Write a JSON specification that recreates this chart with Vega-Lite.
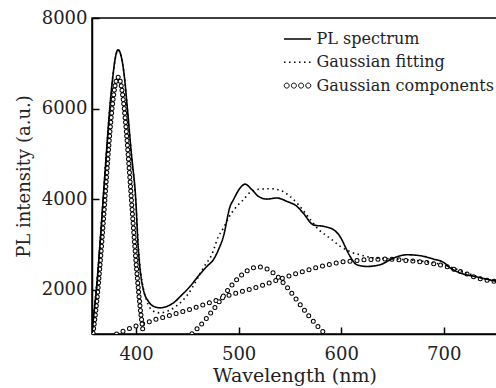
{
  "$schema": "https://vega.github.io/schema/vega-lite/v6.json",
  "width": 405,
  "height": 316,
  "autosize": {"type": "none"},
  "padding": {"left": 92, "top": 18, "right": 0, "bottom": 54},
  "background": "white",
  "config": {
    "view": {"stroke": "black", "strokeWidth": 1.5},
    "font": "DejaVu Serif",
    "axis": {
      "grid": false,
      "domainColor": "black",
      "domainWidth": 1.5,
      "tickColor": "black",
      "tickWidth": 1.5,
      "tickSize": -7,
      "labelFont": "DejaVu Serif",
      "labelFontSize": 18,
      "labelColor": "#222",
      "labelFontWeight": "normal",
      "titleFont": "DejaVu Serif",
      "titleFontWeight": "normal",
      "titleColor": "#222"
    }
  },
  "data": {
    "values": [
      {"series": "PL spectrum", "part": "PL", "wavelength": 357, "intensity": 1040},
      {"series": "PL spectrum", "part": "PL", "wavelength": 359, "intensity": 1500},
      {"series": "PL spectrum", "part": "PL", "wavelength": 361.3, "intensity": 2000},
      {"series": "PL spectrum", "part": "PL", "wavelength": 364.6, "intensity": 2950},
      {"series": "PL spectrum", "part": "PL", "wavelength": 367.8, "intensity": 3980},
      {"series": "PL spectrum", "part": "PL", "wavelength": 371, "intensity": 5000},
      {"series": "PL spectrum", "part": "PL", "wavelength": 374.3, "intensity": 6000},
      {"series": "PL spectrum", "part": "PL", "wavelength": 377.6, "intensity": 6760},
      {"series": "PL spectrum", "part": "PL", "wavelength": 379.8, "intensity": 7130},
      {"series": "PL spectrum", "part": "PL", "wavelength": 382.4, "intensity": 7300},
      {"series": "PL spectrum", "part": "PL", "wavelength": 385.7, "intensity": 7130},
      {"series": "PL spectrum", "part": "PL", "wavelength": 388.3, "intensity": 6760},
      {"series": "PL spectrum", "part": "PL", "wavelength": 391.5, "intensity": 6000},
      {"series": "PL spectrum", "part": "PL", "wavelength": 395.4, "intensity": 5000},
      {"series": "PL spectrum", "part": "PL", "wavelength": 399.7, "intensity": 3980},
      {"series": "PL spectrum", "part": "PL", "wavelength": 402, "intensity": 2950},
      {"series": "PL spectrum", "part": "PL", "wavelength": 403.9, "intensity": 2450},
      {"series": "PL spectrum", "part": "PL", "wavelength": 407.1, "intensity": 2000},
      {"series": "PL spectrum", "part": "PL", "wavelength": 412, "intensity": 1743},
      {"series": "PL spectrum", "part": "PL", "wavelength": 416.9, "intensity": 1633},
      {"series": "PL spectrum", "part": "PL", "wavelength": 423.4, "intensity": 1598},
      {"series": "PL spectrum", "part": "PL", "wavelength": 430, "intensity": 1630},
      {"series": "PL spectrum", "part": "PL", "wavelength": 436.4, "intensity": 1707},
      {"series": "PL spectrum", "part": "PL", "wavelength": 444, "intensity": 1870},
      {"series": "PL spectrum", "part": "PL", "wavelength": 452.7, "intensity": 2073},
      {"series": "PL spectrum", "part": "PL", "wavelength": 460, "intensity": 2280},
      {"series": "PL spectrum", "part": "PL", "wavelength": 469, "intensity": 2512},
      {"series": "PL spectrum", "part": "PL", "wavelength": 475.4, "intensity": 2662},
      {"series": "PL spectrum", "part": "PL", "wavelength": 480.3, "intensity": 2880},
      {"series": "PL spectrum", "part": "PL", "wavelength": 485.2, "intensity": 3177},
      {"series": "PL spectrum", "part": "PL", "wavelength": 491.7, "intensity": 3840},
      {"series": "PL spectrum", "part": "PL", "wavelength": 495, "intensity": 3990},
      {"series": "PL spectrum", "part": "PL", "wavelength": 501.5, "intensity": 4245},
      {"series": "PL spectrum", "part": "PL", "wavelength": 506.3, "intensity": 4330},
      {"series": "PL spectrum", "part": "PL", "wavelength": 512.9, "intensity": 4210},
      {"series": "PL spectrum", "part": "PL", "wavelength": 519.3, "intensity": 4060},
      {"series": "PL spectrum", "part": "PL", "wavelength": 527.5, "intensity": 4000},
      {"series": "PL spectrum", "part": "PL", "wavelength": 537.3, "intensity": 4025},
      {"series": "PL spectrum", "part": "PL", "wavelength": 547, "intensity": 3950},
      {"series": "PL spectrum", "part": "PL", "wavelength": 556.8, "intensity": 3840},
      {"series": "PL spectrum", "part": "PL", "wavelength": 563, "intensity": 3690},
      {"series": "PL spectrum", "part": "PL", "wavelength": 573, "intensity": 3430},
      {"series": "PL spectrum", "part": "PL", "wavelength": 582.7, "intensity": 3398},
      {"series": "PL spectrum", "part": "PL", "wavelength": 592.5, "intensity": 3325},
      {"series": "PL spectrum", "part": "PL", "wavelength": 600.7, "intensity": 3104},
      {"series": "PL spectrum", "part": "PL", "wavelength": 604.5, "intensity": 2920},
      {"series": "PL spectrum", "part": "PL", "wavelength": 608.8, "intensity": 2732},
      {"series": "PL spectrum", "part": "PL", "wavelength": 615.3, "intensity": 2550},
      {"series": "PL spectrum", "part": "PL", "wavelength": 625, "intensity": 2512},
      {"series": "PL spectrum", "part": "PL", "wavelength": 638, "intensity": 2550},
      {"series": "PL spectrum", "part": "PL", "wavelength": 651, "intensity": 2697},
      {"series": "PL spectrum", "part": "PL", "wavelength": 664, "intensity": 2770},
      {"series": "PL spectrum", "part": "PL", "wavelength": 677, "intensity": 2750},
      {"series": "PL spectrum", "part": "PL", "wavelength": 690, "intensity": 2675},
      {"series": "PL spectrum", "part": "PL", "wavelength": 700, "intensity": 2600},
      {"series": "PL spectrum", "part": "PL", "wavelength": 706.3, "intensity": 2480},
      {"series": "PL spectrum", "part": "PL", "wavelength": 716, "intensity": 2370},
      {"series": "PL spectrum", "part": "PL", "wavelength": 732.4, "intensity": 2280},
      {"series": "PL spectrum", "part": "PL", "wavelength": 752, "intensity": 2180},

      {"series": "Gaussian fitting", "part": "FIT", "wavelength": 357, "intensity": 1040},
      {"series": "Gaussian fitting", "part": "FIT", "wavelength": 361.3, "intensity": 2000},
      {"series": "Gaussian fitting", "part": "FIT", "wavelength": 367.8, "intensity": 3980},
      {"series": "Gaussian fitting", "part": "FIT", "wavelength": 374.3, "intensity": 6000},
      {"series": "Gaussian fitting", "part": "FIT", "wavelength": 377.6, "intensity": 6760},
      {"series": "Gaussian fitting", "part": "FIT", "wavelength": 382.4, "intensity": 7290},
      {"series": "Gaussian fitting", "part": "FIT", "wavelength": 388.3, "intensity": 6760},
      {"series": "Gaussian fitting", "part": "FIT", "wavelength": 391.5, "intensity": 5990},
      {"series": "Gaussian fitting", "part": "FIT", "wavelength": 395.4, "intensity": 4990},
      {"series": "Gaussian fitting", "part": "FIT", "wavelength": 399.7, "intensity": 3950},
      {"series": "Gaussian fitting", "part": "FIT", "wavelength": 403, "intensity": 2700},
      {"series": "Gaussian fitting", "part": "FIT", "wavelength": 406, "intensity": 2150},
      {"series": "Gaussian fitting", "part": "FIT", "wavelength": 410, "intensity": 1780},
      {"series": "Gaussian fitting", "part": "FIT", "wavelength": 416.9, "intensity": 1523},
      {"series": "Gaussian fitting", "part": "FIT", "wavelength": 423.4, "intensity": 1487},
      {"series": "Gaussian fitting", "part": "FIT", "wavelength": 430, "intensity": 1520},
      {"series": "Gaussian fitting", "part": "FIT", "wavelength": 440, "intensity": 1650},
      {"series": "Gaussian fitting", "part": "FIT", "wavelength": 450, "intensity": 1880},
      {"series": "Gaussian fitting", "part": "FIT", "wavelength": 460, "intensity": 2250},
      {"series": "Gaussian fitting", "part": "FIT", "wavelength": 466, "intensity": 2500},
      {"series": "Gaussian fitting", "part": "FIT", "wavelength": 473.8, "intensity": 2770},
      {"series": "Gaussian fitting", "part": "FIT", "wavelength": 480.3, "intensity": 3177},
      {"series": "Gaussian fitting", "part": "FIT", "wavelength": 485.2, "intensity": 3360},
      {"series": "Gaussian fitting", "part": "FIT", "wavelength": 490, "intensity": 3580},
      {"series": "Gaussian fitting", "part": "FIT", "wavelength": 498.2, "intensity": 3840},
      {"series": "Gaussian fitting", "part": "FIT", "wavelength": 504.7, "intensity": 3987},
      {"series": "Gaussian fitting", "part": "FIT", "wavelength": 511.2, "intensity": 4150},
      {"series": "Gaussian fitting", "part": "FIT", "wavelength": 521, "intensity": 4220},
      {"series": "Gaussian fitting", "part": "FIT", "wavelength": 530.7, "intensity": 4230},
      {"series": "Gaussian fitting", "part": "FIT", "wavelength": 540.5, "intensity": 4195},
      {"series": "Gaussian fitting", "part": "FIT", "wavelength": 550.2, "intensity": 4060},
      {"series": "Gaussian fitting", "part": "FIT", "wavelength": 558.3, "intensity": 3877},
      {"series": "Gaussian fitting", "part": "FIT", "wavelength": 571.3, "intensity": 3510},
      {"series": "Gaussian fitting", "part": "FIT", "wavelength": 578, "intensity": 3325},
      {"series": "Gaussian fitting", "part": "FIT", "wavelength": 584.4, "intensity": 3214},
      {"series": "Gaussian fitting", "part": "FIT", "wavelength": 590.9, "intensity": 3104},
      {"series": "Gaussian fitting", "part": "FIT", "wavelength": 599, "intensity": 2957},
      {"series": "Gaussian fitting", "part": "FIT", "wavelength": 612, "intensity": 2810},
      {"series": "Gaussian fitting", "part": "FIT", "wavelength": 618.5, "intensity": 2770},
      {"series": "Gaussian fitting", "part": "FIT", "wavelength": 630, "intensity": 2705},
      {"series": "Gaussian fitting", "part": "FIT", "wavelength": 640, "intensity": 2690},
      {"series": "Gaussian fitting", "part": "FIT", "wavelength": 660, "intensity": 2665},
      {"series": "Gaussian fitting", "part": "FIT", "wavelength": 680, "intensity": 2625},
      {"series": "Gaussian fitting", "part": "FIT", "wavelength": 700, "intensity": 2545},
      {"series": "Gaussian fitting", "part": "FIT", "wavelength": 720, "intensity": 2390},
      {"series": "Gaussian fitting", "part": "FIT", "wavelength": 740, "intensity": 2240},
      {"series": "Gaussian fitting", "part": "FIT", "wavelength": 752, "intensity": 2190},

      {"series": "Gaussian components", "part": "G1", "wavelength": 358, "intensity": 1040},
      {"series": "Gaussian components", "part": "G1", "wavelength": 360.5, "intensity": 1493},
      {"series": "Gaussian components", "part": "G1", "wavelength": 362.5, "intensity": 1936},
      {"series": "Gaussian components", "part": "G1", "wavelength": 364.5, "intensity": 2451},
      {"series": "Gaussian components", "part": "G1", "wavelength": 366.5, "intensity": 3025},
      {"series": "Gaussian components", "part": "G1", "wavelength": 368.5, "intensity": 3644},
      {"series": "Gaussian components", "part": "G1", "wavelength": 370.5, "intensity": 4282},
      {"series": "Gaussian components", "part": "G1", "wavelength": 372.5, "intensity": 4906},
      {"series": "Gaussian components", "part": "G1", "wavelength": 374.5, "intensity": 5486},
      {"series": "Gaussian components", "part": "G1", "wavelength": 376.5, "intensity": 5984},
      {"series": "Gaussian components", "part": "G1", "wavelength": 378.5, "intensity": 6366},
      {"series": "Gaussian components", "part": "G1", "wavelength": 380.5, "intensity": 6608},
      {"series": "Gaussian components", "part": "G1", "wavelength": 382.5, "intensity": 6690},
      {"series": "Gaussian components", "part": "G1", "wavelength": 384.5, "intensity": 6608},
      {"series": "Gaussian components", "part": "G1", "wavelength": 386.5, "intensity": 6366},
      {"series": "Gaussian components", "part": "G1", "wavelength": 388.5, "intensity": 5984},
      {"series": "Gaussian components", "part": "G1", "wavelength": 390.5, "intensity": 5486},
      {"series": "Gaussian components", "part": "G1", "wavelength": 392.5, "intensity": 4906},
      {"series": "Gaussian components", "part": "G1", "wavelength": 394.5, "intensity": 4282},
      {"series": "Gaussian components", "part": "G1", "wavelength": 396.5, "intensity": 3644},
      {"series": "Gaussian components", "part": "G1", "wavelength": 398.5, "intensity": 3025},
      {"series": "Gaussian components", "part": "G1", "wavelength": 400.5, "intensity": 2451},
      {"series": "Gaussian components", "part": "G1", "wavelength": 402.5, "intensity": 1936},
      {"series": "Gaussian components", "part": "G1", "wavelength": 404.5, "intensity": 1493},
      {"series": "Gaussian components", "part": "G1", "wavelength": 407, "intensity": 1040},

      {"series": "Gaussian components", "part": "G2", "wavelength": 454.5, "intensity": 1027},
      {"series": "Gaussian components", "part": "G2", "wavelength": 459.5, "intensity": 1135},
      {"series": "Gaussian components", "part": "G2", "wavelength": 469.5, "intensity": 1391},
      {"series": "Gaussian components", "part": "G2", "wavelength": 479.5, "intensity": 1686},
      {"series": "Gaussian components", "part": "G2", "wavelength": 489.5, "intensity": 1988},
      {"series": "Gaussian components", "part": "G2", "wavelength": 499.5, "intensity": 2253},
      {"series": "Gaussian components", "part": "G2", "wavelength": 509.5, "intensity": 2435},
      {"series": "Gaussian components", "part": "G2", "wavelength": 519.5, "intensity": 2500},
      {"series": "Gaussian components", "part": "G2", "wavelength": 529.5, "intensity": 2435},
      {"series": "Gaussian components", "part": "G2", "wavelength": 539.5, "intensity": 2253},
      {"series": "Gaussian components", "part": "G2", "wavelength": 549.5, "intensity": 1988},
      {"series": "Gaussian components", "part": "G2", "wavelength": 559.5, "intensity": 1686},
      {"series": "Gaussian components", "part": "G2", "wavelength": 569.5, "intensity": 1391},
      {"series": "Gaussian components", "part": "G2", "wavelength": 579.5, "intensity": 1135},
      {"series": "Gaussian components", "part": "G2", "wavelength": 584.5, "intensity": 1027},

      {"series": "Gaussian components", "part": "G3", "wavelength": 381, "intensity": 1020},
      {"series": "Gaussian components", "part": "G3", "wavelength": 390, "intensity": 1110},
      {"series": "Gaussian components", "part": "G3", "wavelength": 400, "intensity": 1200},
      {"series": "Gaussian components", "part": "G3", "wavelength": 410, "intensity": 1270},
      {"series": "Gaussian components", "part": "G3", "wavelength": 420, "intensity": 1350},
      {"series": "Gaussian components", "part": "G3", "wavelength": 430, "intensity": 1410},
      {"series": "Gaussian components", "part": "G3", "wavelength": 440, "intensity": 1480},
      {"series": "Gaussian components", "part": "G3", "wavelength": 450, "intensity": 1545},
      {"series": "Gaussian components", "part": "G3", "wavelength": 460, "intensity": 1620},
      {"series": "Gaussian components", "part": "G3", "wavelength": 470, "intensity": 1700},
      {"series": "Gaussian components", "part": "G3", "wavelength": 480, "intensity": 1780},
      {"series": "Gaussian components", "part": "G3", "wavelength": 490, "intensity": 1870},
      {"series": "Gaussian components", "part": "G3", "wavelength": 500, "intensity": 1940},
      {"series": "Gaussian components", "part": "G3", "wavelength": 510, "intensity": 2000},
      {"series": "Gaussian components", "part": "G3", "wavelength": 520, "intensity": 2070},
      {"series": "Gaussian components", "part": "G3", "wavelength": 530, "intensity": 2150},
      {"series": "Gaussian components", "part": "G3", "wavelength": 540, "intensity": 2230},
      {"series": "Gaussian components", "part": "G3", "wavelength": 550, "intensity": 2310},
      {"series": "Gaussian components", "part": "G3", "wavelength": 560, "intensity": 2380},
      {"series": "Gaussian components", "part": "G3", "wavelength": 570, "intensity": 2450},
      {"series": "Gaussian components", "part": "G3", "wavelength": 580, "intensity": 2515},
      {"series": "Gaussian components", "part": "G3", "wavelength": 590, "intensity": 2560},
      {"series": "Gaussian components", "part": "G3", "wavelength": 600, "intensity": 2610},
      {"series": "Gaussian components", "part": "G3", "wavelength": 610, "intensity": 2630},
      {"series": "Gaussian components", "part": "G3", "wavelength": 620, "intensity": 2655},
      {"series": "Gaussian components", "part": "G3", "wavelength": 630, "intensity": 2665},
      {"series": "Gaussian components", "part": "G3", "wavelength": 640, "intensity": 2675},
      {"series": "Gaussian components", "part": "G3", "wavelength": 650, "intensity": 2670},
      {"series": "Gaussian components", "part": "G3", "wavelength": 660, "intensity": 2650},
      {"series": "Gaussian components", "part": "G3", "wavelength": 670, "intensity": 2630},
      {"series": "Gaussian components", "part": "G3", "wavelength": 680, "intensity": 2610},
      {"series": "Gaussian components", "part": "G3", "wavelength": 690, "intensity": 2570},
      {"series": "Gaussian components", "part": "G3", "wavelength": 700, "intensity": 2530},
      {"series": "Gaussian components", "part": "G3", "wavelength": 710, "intensity": 2450},
      {"series": "Gaussian components", "part": "G3", "wavelength": 720, "intensity": 2370},
      {"series": "Gaussian components", "part": "G3", "wavelength": 730, "intensity": 2280},
      {"series": "Gaussian components", "part": "G3", "wavelength": 740, "intensity": 2220},
      {"series": "Gaussian components", "part": "G3", "wavelength": 752, "intensity": 2175}
    ]
  },
  "encoding": {
    "x": {
      "field": "wavelength", "type": "quantitative",
      "scale": {"domain": [357, 752], "nice": false, "zero": false},
      "axis": {"values": [400, 500, 600, 700], "format": "d", "title": "Wavelength (nm)", "titleFontSize": 19, "labelPadding": 18, "titlePadding": 3}
    },
    "y": {
      "field": "intensity", "type": "quantitative",
      "scale": {"domain": [1020, 8000], "nice": false, "zero": false},
      "axis": {"values": [2000, 4000, 6000, 8000], "format": "d", "title": "PL intensity (a.u.)", "titleFontSize": 18, "labelPadding": 12, "titlePadding": 8}
    }
  },
  "layer": [
    {
      "transform": [{"filter": "datum.part === 'G2' || datum.part === 'G3'"}],
      "mark": {"type": "line", "interpolate": "monotone", "stroke": "black", "strokeWidth": 5, "strokeDash": [0, 7], "strokeCap": "round", "clip": true},
      "encoding": {"detail": {"field": "part"}}
    },
    {
      "transform": [{"filter": "datum.part === 'G2' || datum.part === 'G3'"}],
      "mark": {"type": "line", "interpolate": "monotone", "stroke": "white", "strokeWidth": 3, "strokeDash": [0, 7], "strokeCap": "round", "clip": true},
      "encoding": {"detail": {"field": "part"}}
    },
    {
      "transform": [{"filter": "datum.part === 'G1'"}],
      "mark": {"type": "line", "interpolate": "monotone", "stroke": "black", "strokeWidth": 5, "strokeDash": [0, 4.6], "strokeCap": "round", "clip": true},
      "encoding": {}
    },
    {
      "transform": [{"filter": "datum.part === 'G1'"}],
      "mark": {"type": "line", "interpolate": "monotone", "stroke": "white", "strokeWidth": 3, "strokeDash": [0, 4.6], "strokeCap": "round", "clip": true},
      "encoding": {}
    },
    {
      "transform": [{"filter": "datum.part === 'PL' || datum.part === 'FIT'"}],
      "mark": {"type": "line", "interpolate": "monotone", "stroke": "black", "strokeWidth": 1.6, "clip": true},
      "encoding": {
        "strokeDash": {
          "field": "series", "type": "nominal",
          "scale": {"domain": ["PL spectrum", "Gaussian fitting", "Gaussian components"], "range": [[1, 0], [1.5, 3.5], [1, 0]]},
          "legend": {
            "title": null,
            "orient": "none",
            "legendX": 197.5,
            "legendY": 13,
            "padding": 0,
            "symbolType": "M-1.5,0L1.5,0",
            "symbolSize": 324,
            "symbolStrokeColor": "black",
            "symbolStrokeWidth": 1.6,
            "labelFont": "DejaVu Serif",
            "labelFontSize": 16,
            "labelColor": "#222",
            "labelOffset": 11,
            "labelLimit": 300,
            "rowPadding": 7.3,
            "encode": {
              "symbols": {
                "update": {
                  "shape": {"signal": "datum.value === 'Gaussian components' ? 'M-1.48,0A0.28,0.28,0,1,1,-0.92,0A0.28,0.28,0,1,1,-1.48,0M-0.68,0A0.28,0.28,0,1,1,-0.12,0A0.28,0.28,0,1,1,-0.68,0M0.12,0A0.28,0.28,0,1,1,0.68,0A0.28,0.28,0,1,1,0.12,0M0.92,0A0.28,0.28,0,1,1,1.48,0A0.28,0.28,0,1,1,0.92,0' : 'M-1.5,0L1.5,0'"},
                  "strokeWidth": {"signal": "datum.value === 'Gaussian components' ? 1 : 1.6"}
                }
              }
            }
          }
        }
      }
    }
  ]
}
